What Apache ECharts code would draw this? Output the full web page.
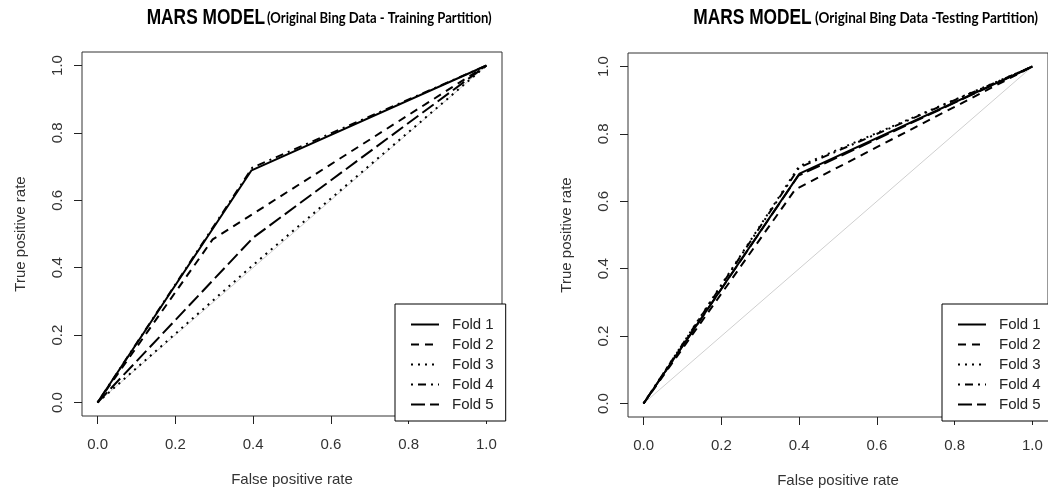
<!DOCTYPE html>
<html><head><meta charset="utf-8">
<script src="https://cdn.jsdelivr.net/npm/echarts@6/dist/echarts.min.js"></script>
<style>html,body{margin:0;padding:0;background:#fff}#c{width:1048px;height:497px}</style>
</head><body><div id="c"></div>
<script>
// ---- data ----
const foldNames = ['Fold 1', 'Fold 2', 'Fold 3', 'Fold 4', 'Fold 5'];
const tickValues = [0, 0.2, 0.4, 0.6, 0.8, 1.0];
const diagonal = [[0, 0], [1, 1]];
// Training partition: [false positive rate, true positive rate]
const trainFold1 = [[0, 0], [0.396, 0.689], [1, 1]];
const trainFold2 = [[0, 0], [0.296, 0.484], [1, 1]];
const trainFold3 = [[0, 0], [0.396, 0.404], [1, 1]];
const trainFold4 = [[0, 0], [0.398, 0.697], [1, 1]];
const trainFold5 = [[0, 0], [0.400, 0.489], [1, 1]];
// Testing partition
const testFold1 = [[0, 0], [0.401, 0.682], [1, 1]];
const testFold2 = [[0, 0], [0.390, 0.635], [1, 1]];
const testFold3 = [[0, 0], [0.400, 0.704], [1, 1]];
const testFold4 = [[0, 0], [0.400, 0.700], [1, 1]];
const testFold5 = [[0, 0], [0.398, 0.676], [1, 1]];
const titleMain = 'MARS MODEL';
const titleSubTrain = '(Original Bing Data - Training Partition)';
const titleSubTest = '(Original Bing Data -Testing Partition)';
const xTitle = 'False positive rate';
const yTitle = 'True positive rate';

// ---- styles ----
const lineTypes = ['solid', [8, 6], [2, 5], [2, 5, 8, 5], [14, 5]];
const FONT = '"Liberation Sans", Arial, sans-serif';
const mainFont = 'bold 22px "Liberation Sans"';
const subFont = 'bold 15px Lato';

const cv = document.createElement('canvas').getContext('2d');
function scaleFor(text, font, target) { cv.font = font; return target / cv.measureText(text).width; }

const chart = echarts.init(document.getElementById('c'), null, { renderer: 'canvas' });

const grids = [
  { left: 82, top: 52, width: 420, height: 364 },
  { left: 628, top: 53, width: 420, height: 364 }
];
const legendPos = [{ left: 395, top: 304 }, { left: 942, top: 304 }];

function xAxis(gi) {
  return {
    type: 'value', gridIndex: gi, min: -0.04, max: 1.04, position: 'bottom',
    axisLine: { show: false, onZero: false }, splitLine: { show: false },
    axisTick: { show: true, inside: false, customValues: tickValues, length: 8, lineStyle: { color: '#222', width: 1 } },
    axisLabel: { customValues: tickValues, formatter: v => v.toFixed(1), margin: 21, fontSize: 15, color: '#333', fontFamily: FONT },
    name: xTitle, nameLocation: 'middle', nameGap: 56,
    nameTextStyle: { fontSize: 15, color: '#333', fontFamily: FONT }
  };
}
function yAxis(gi) {
  return {
    type: 'value', gridIndex: gi, min: -0.04, max: 1.04, position: 'left',
    axisLine: { show: false, onZero: false }, splitLine: { show: false },
    axisTick: { show: true, inside: false, customValues: tickValues, length: 8, lineStyle: { color: '#222', width: 1 } },
    axisLabel: { customValues: tickValues, formatter: v => v.toFixed(1), rotate: 90, margin: 17, fontSize: 15, color: '#333', fontFamily: FONT },
    name: yTitle, nameLocation: 'middle', nameGap: 54,
    nameTextStyle: { fontSize: 15, color: '#333', fontFamily: FONT }
  };
}

const series = [];
[[trainFold1, trainFold2, trainFold3, trainFold4, trainFold5],
 [testFold1, testFold2, testFold3, testFold4, testFold5]].forEach((folds, gi) => {
  series.push({ type: 'line', name: 'diagonal', xAxisIndex: gi, yAxisIndex: gi, data: diagonal,
    symbol: 'none', silent: true, z: 1, itemStyle: { color: '#cfcfcf' }, lineStyle: { color: '#cfcfcf', width: 1 } });
  folds.forEach((d, i) => series.push({
    type: 'line', name: foldNames[i], xAxisIndex: gi, yAxisIndex: gi, data: d,
    symbol: 'none', z: 2, itemStyle: { color: '#000' },
    lineStyle: { color: '#000', width: 2, type: lineTypes[i] }
  }));
});

function titleEls(xMain, wMain, xSub, wSub, sub) {
  return [
    { type: 'text', x: xMain, y: 18, scaleX: scaleFor(titleMain, mainFont, wMain),
      style: { text: titleMain, font: mainFont, fill: '#000', align: 'left', verticalAlign: 'middle' } },
    { type: 'text', x: xSub, y: 18.6, scaleX: scaleFor(sub, subFont, wSub),
      style: { text: sub, font: subFont, fill: '#000', align: 'left', verticalAlign: 'middle' } }
  ];
}

chart.setOption({
  animation: false,
  grid: grids.map(g => Object.assign({ show: true, borderColor: '#333', borderWidth: 1, backgroundColor: 'transparent' }, g)),
  xAxis: [xAxis(0), xAxis(1)],
  yAxis: [yAxis(0), yAxis(1)],
  legend: legendPos.map(p => Object.assign({
    data: foldNames, orient: 'vertical', itemWidth: 28, itemHeight: 14, itemGap: 5,
    backgroundColor: '#fff', borderColor: '#000', borderWidth: 1, borderRadius: 0,
    padding: [13, 12, 9, 15], selectedMode: false,
    itemStyle: { color: 'rgba(0,0,0,0)', borderWidth: 0, opacity: 0 },
    lineStyle: { color: '#000', width: 2 },
    textStyle: { fontSize: 15, color: '#222', fontFamily: FONT, padding: [0, 0, 0, 8] }
  }, p)),
  graphic: [
    ...titleEls(146.7, 118.3, 267, 224.7, titleSubTrain),
    ...titleEls(693.3, 118.4, 815, 223, titleSubTest)
  ],
  series: series
});
</script>
</body></html>
